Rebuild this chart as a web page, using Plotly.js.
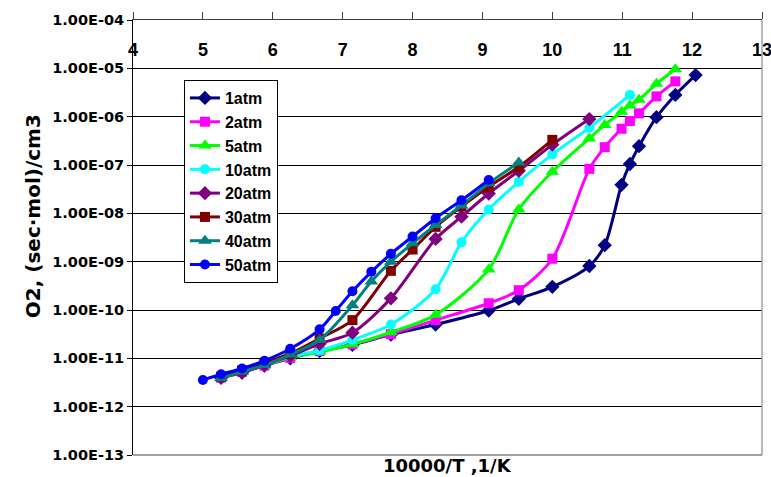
<!DOCTYPE html>
<html>
<head>
<meta charset="utf-8">
<script src="https://cdn.plot.ly/plotly-3.0.1.min.js"></script>
<style>html,body{margin:0;padding:0;background:#fff;}#chart{width:771px;height:477px;}</style>
</head>
<body>
<div id="chart"></div>
<script>
// ---- data ----
const seriesNames = ["1atm", "2atm", "5atm", "10atm", "20atm", "30atm", "40atm", "50atm"];

const x1atm = [5.26, 5.56, 5.88, 6.25, 6.67, 7.14, 7.69, 8.33, 9.09, 9.52, 10.00, 10.53, 10.75, 10.99, 11.11, 11.24, 11.49, 11.76, 12.05];
const y1atm = [3.98e-12, 5.25e-12, 7.08e-12, 1.0e-11, 1.41e-11, 1.91e-11, 3.09e-11, 5.01e-11, 9.77e-11, 1.70e-10, 3.02e-10, 8.13e-10, 2.19e-9, 3.89e-8, 1.05e-7, 2.45e-7, 9.77e-7, 2.82e-6, 7.24e-6];

const x2atm = [5.26, 5.56, 5.88, 6.25, 6.67, 7.14, 7.69, 8.33, 9.09, 9.52, 10.00, 10.53, 10.75, 10.99, 11.11, 11.24, 11.49, 11.76];
const y2atm = [3.98e-12, 5.25e-12, 7.08e-12, 1.02e-11, 1.41e-11, 1.95e-11, 3.16e-11, 6.17e-11, 1.38e-10, 2.57e-10, 1.15e-9, 8.32e-8, 2.34e-7, 5.62e-7, 8.13e-7, 1.17e-6, 2.63e-6, 5.37e-6];

const x5atm = [5.26, 5.56, 5.88, 6.25, 6.67, 7.14, 7.69, 8.33, 9.09, 9.52, 10.00, 10.53, 10.75, 10.99, 11.11, 11.24, 11.49, 11.76];
const y5atm = [3.98e-12, 5.25e-12, 7.08e-12, 1.05e-11, 1.35e-11, 1.95e-11, 3.47e-11, 7.94e-11, 6.92e-10, 1.20e-8, 7.24e-8, 3.55e-7, 6.76e-7, 1.26e-6, 1.70e-6, 2.24e-6, 4.79e-6, 9.55e-6];

const x10atm = [5.26, 5.56, 5.88, 6.25, 6.67, 7.14, 7.69, 8.33, 8.70, 9.09, 9.52, 10.00, 10.53, 11.11];
const y10atm = [3.98e-12, 5.25e-12, 7.24e-12, 1.10e-11, 1.45e-11, 2.40e-11, 5.01e-11, 2.69e-10, 2.51e-9, 1.20e-8, 4.47e-8, 1.66e-7, 5.89e-7, 2.82e-6];

const x20atm = [5.26, 5.56, 5.88, 6.25, 6.67, 7.14, 7.69, 8.33, 8.70, 9.09, 9.52, 10.00, 10.53];
const y20atm = [3.98e-12, 5.01e-12, 7.24e-12, 1.12e-11, 2.0e-11, 3.39e-11, 1.74e-10, 2.95e-9, 8.51e-9, 2.57e-8, 7.59e-8, 2.63e-7, 8.91e-7];

const x30atm = [5.26, 5.56, 5.88, 6.25, 6.67, 7.14, 7.69, 8.00, 8.33, 8.70, 9.09, 9.52, 10.00];
const y30atm = [4.17e-12, 5.62e-12, 7.94e-12, 1.26e-11, 2.57e-11, 6.17e-11, 6.46e-10, 1.78e-9, 5.25e-9, 1.38e-8, 3.55e-8, 9.12e-8, 3.31e-7];

const x40atm = [5.26, 5.56, 5.88, 6.25, 6.67, 7.14, 7.41, 7.69, 8.00, 8.33, 8.70, 9.09, 9.52];
const y40atm = [3.89e-12, 5.25e-12, 7.24e-12, 1.20e-11, 2.40e-11, 1.26e-10, 3.89e-10, 1.0e-9, 2.40e-9, 5.75e-9, 1.45e-8, 4.17e-8, 1.12e-7];

const x50atm = [5.00, 5.26, 5.56, 5.88, 6.25, 6.67, 6.90, 7.14, 7.41, 7.69, 8.00, 8.33, 8.70, 9.09];
const y50atm = [3.55e-12, 4.68e-12, 6.17e-12, 8.91e-12, 1.58e-11, 3.98e-11, 9.55e-11, 2.45e-10, 6.17e-10, 1.45e-9, 3.31e-9, 7.94e-9, 1.86e-8, 4.90e-8];

const yTickVals = [1e-13, 1e-12, 1e-11, 1e-10, 1e-9, 1e-8, 1e-7, 1e-6, 1e-5, 1e-4];
const yTickText = ["1.00E-13", "1.00E-12", "1.00E-11", "1.00E-10", "1.00E-09", "1.00E-08", "1.00E-07", "1.00E-06", "1.00E-05", "1.00E-04"];

const xTitle = "10000/T ,1/K";
const yTitle = "O2, (sec·mol)/cm3";

// ---- styling ----
const xs = [x1atm, x2atm, x5atm, x10atm, x20atm, x30atm, x40atm, x50atm];
const ys = [y1atm, y2atm, y5atm, y10atm, y20atm, y30atm, y40atm, y50atm];
const colors = ["#000080", "#FF00FF", "#00FF00", "#00FFFF", "#800080", "#800000", "#008080", "#0000FF"];
const symbols = ["diamond", "square", "triangle-up", "circle", "diamond", "square", "triangle-up", "circle"];
const sizes = [11, 10, 12, 10, 11, 10, 12, 10];

const traces = seriesNames.map((name, i) => ({
  type: "scatter",
  mode: "lines+markers",
  name: name,
  x: xs[i],
  y: ys[i],
  line: { color: colors[i], width: 3, shape: "spline", smoothing: 0.8 },
  marker: { color: colors[i], symbol: symbols[i], size: sizes[i], line: { width: 0 } }
}));

const layout = {
  width: 771,
  height: 477,
  margin: { l: 133, r: 9, t: 20, b: 22 },
  paper_bgcolor: "#ffffff",
  plot_bgcolor: "#ffffff",
  showlegend: true,
  xaxis: {
    type: "linear",
    range: [4, 13],
    side: "top",
    tickmode: "linear",
    tick0: 4,
    dtick: 1,
    ticks: "outside",
    ticklen: 7,
    tickcolor: "#404040",
    showline: true,
    linecolor: "#404040",
    linewidth: 1,
    showgrid: false,
    zeroline: false,
    ticklabelposition: "inside",
    ticklabelstandoff: 24,
    ticklabeloverflow: "allow",
    tickfont: { family: "Liberation Sans, Arial, sans-serif", size: 18, color: "#000", weight: "bold" }
  },
  yaxis: {
    type: "log",
    range: [-13, -4],
    tickmode: "array",
    tickvals: yTickVals,
    ticktext: yTickText,
    ticks: "outside",
    ticklen: 5,
    tickcolor: "#000",
    showline: true,
    linecolor: "#000",
    linewidth: 1,
    showgrid: true,
    gridcolor: "#000",
    gridwidth: 1,
    zeroline: false,
    tickfont: { family: "DejaVu Sans, sans-serif", size: 14.5, color: "#000", weight: "bold" }
  },
  legend: {
    x: 0.081, y: 0.862, xanchor: "left", yanchor: "top",
    bgcolor: "#ffffff", bordercolor: "#000", borderwidth: 1,
    font: { family: "Liberation Sans, Arial, sans-serif", size: 16, color: "#000", weight: "bold" },
    itemwidth: 30
  },
  shapes: [
    { type: "line", xref: "paper", yref: "paper", x0: 1, x1: 1, y0: 0, y1: 1, line: { color: "#a0a0a0", width: 1.5 } },
    { type: "line", xref: "paper", yref: "paper", x0: 0, x1: 1, y0: 0, y1: 0, line: { color: "#808080", width: 1.5 } }
  ],
  annotations: [
    {
      text: xTitle, xref: "paper", yref: "paper", x: 0.5, y: -0.023,
      xanchor: "center", yanchor: "middle", showarrow: false,
      font: { family: "DejaVu Sans, sans-serif", size: 18, color: "#000", weight: "bold" }
    },
    {
      text: yTitle, xref: "paper", yref: "paper", x: -0.159, y: 0.549, textangle: -90,
      xanchor: "center", yanchor: "middle", showarrow: false,
      font: { family: "DejaVu Sans, sans-serif", size: 20, color: "#000", weight: "bold" }
    }
  ]
};

Plotly.newPlot("chart", traces, layout, { displayModeBar: false, staticPlot: true });
</script>
</body>
</html>
